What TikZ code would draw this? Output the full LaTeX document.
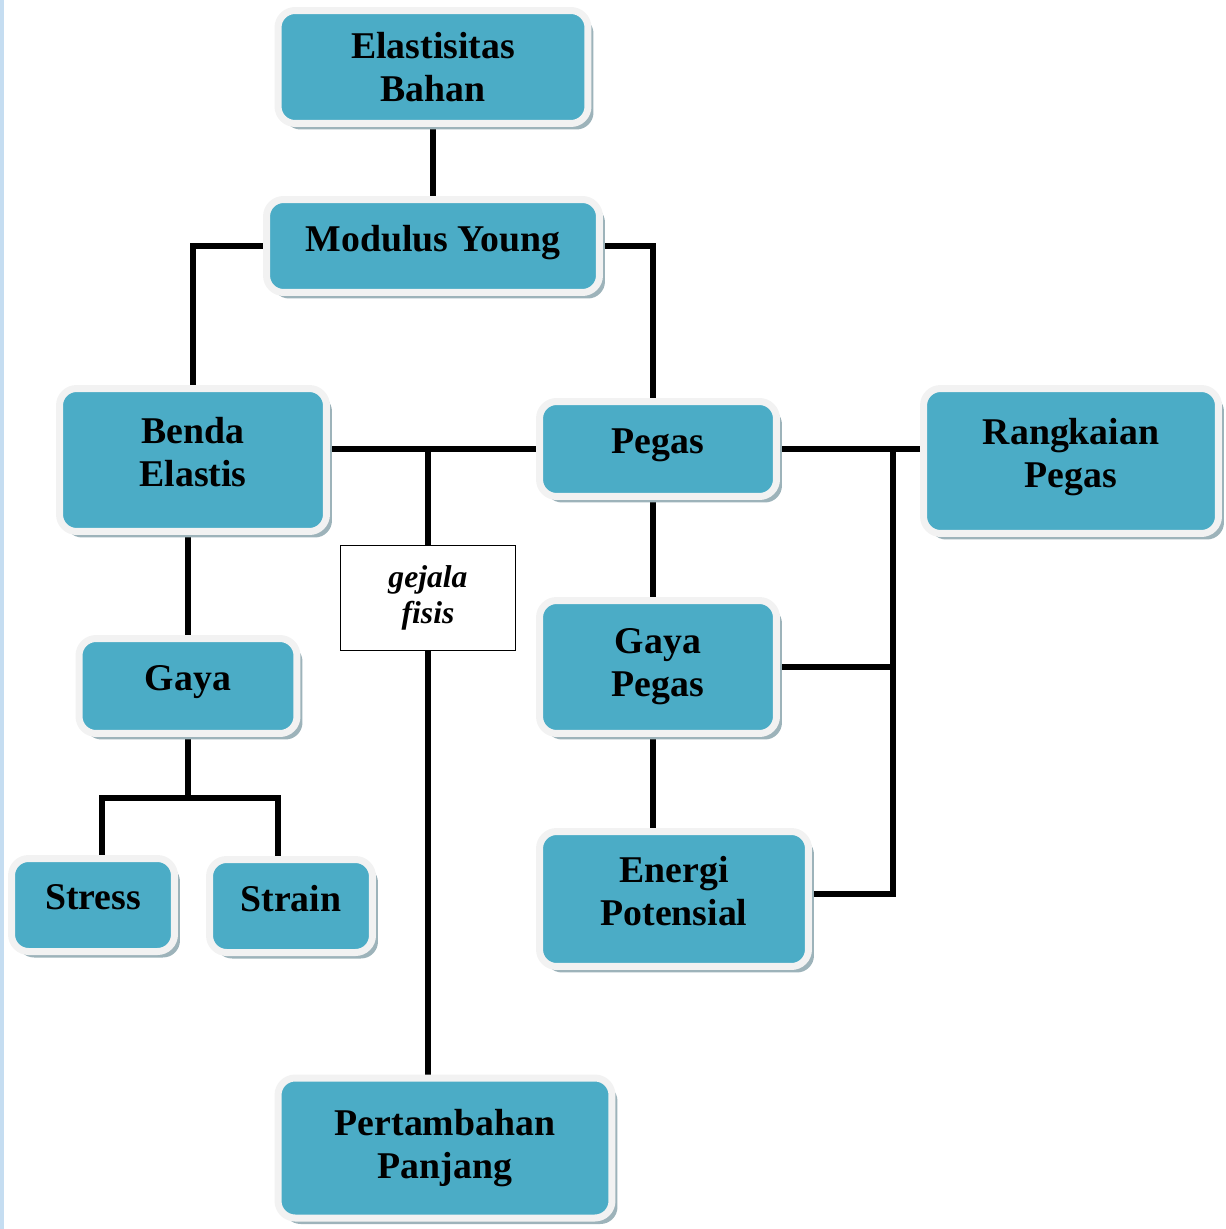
\documentclass[tikz,border=0pt]{standalone}
\usepackage{fontspec}
\setmainfont{Liberation Serif}
\usetikzlibrary{shadows,backgrounds}
\definecolor{kotak}{HTML}{4BACC6}
\definecolor{tepi}{HTML}{F2F2F2}
\definecolor{bayang}{HTML}{9DB3BA}
\definecolor{pinggir}{HTML}{C5DDF1}
\tikzset{
	konsep/.style = {align=center, inner sep=0pt, fill=kotak, draw=tepi, line width=0.14cm,
		rounded corners=0.34cm, font=\fontsize{21.5}{24.5}\selectfont\bfseries, text depth=9pt,
		drop shadow={shadow xshift=0.11cm, shadow yshift=-0.12cm, fill=bayang, opacity=1}},
	ket/.style = {align=center, inner sep=0pt, fill=white, draw=black, line width=0.8pt,
		minimum width=3.5cm, minimum height=2.1cm, font=\fontsize{18}{20.5}\selectfont\bfseries\itshape},
	garis/.style = {line width=0.12cm, black}
}
\begin{document}
\begin{tikzpicture}[x=0.02cm, y=-0.02cm]
\useasboundingbox (0,0) rectangle (1225,1229);
\fill[pinggir] (0,0) rectangle (4,1229);

\node [konsep, text depth=0pt, minimum width=6.2cm, minimum height=2.26cm] (elastisitas) at (433,67) {Elastisitas\\Bahan};
\node [konsep, minimum width=6.66cm, minimum height=1.86cm] (modulus) at (433,246) {Modulus Young};
\node [konsep, minimum width=5.34cm, minimum height=2.86cm] (benda) at (193,460) {Benda\\Elastis};
\node [konsep, minimum width=4.74cm, minimum height=1.9cm] (pegas) at (658,449) {Pegas};
\node [konsep, minimum width=5.9cm, minimum height=2.9cm] (rangkaian) at (1071,461) {Rangkaian\\Pegas};
\node [konsep, text depth=5pt, minimum width=4.74cm, minimum height=2.66cm] (gayapegas) at (658,667) {Gaya\\Pegas};
\node [konsep, minimum width=5.38cm, minimum height=2.7cm] (energi) at (674,899) {Energi\\Potensial};
\node [konsep, minimum width=4.36cm, minimum height=1.9cm] (gaya) at (188,686) {Gaya};
\node [konsep, minimum width=3.26cm, minimum height=1.86cm] (stress) at (93,905) {Stress};
\node [konsep, minimum width=3.26cm, minimum height=1.86cm] (strain) at (291,906) {Strain};
\node [konsep, text depth=5pt, minimum width=6.68cm, minimum height=2.8cm] (tambah) at (445,1148) {Pertambahan\\Panjang};
\node [ket] (gejala) at (428,598) {gejala\\fisis};

\coordinate (bus) at (893,0);
\coordinate (cabang) at (188,798);

\begin{scope}[on background layer]
\draw[garis] (elastisitas) -- (modulus);
\draw[garis] (modulus.west) -| (benda.north);
\draw[garis] (modulus.east) -| ([xshift=-0.1cm]pegas.north);
\draw[garis] (benda.east |- pegas.west) -- (pegas.west);
\draw[garis] (gejala.north) -- (gejala.north |- pegas.west);
\draw[garis] (gejala.south) -- (gejala.south |- tambah.north);
\draw[garis] ([xshift=-0.1cm]pegas.south) -- ([xshift=-0.1cm]gayapegas.north);
\draw[garis] ([xshift=-0.1cm]gayapegas.south) -- ([xshift=-0.1cm]gayapegas.south |- energi.north);
\draw[garis] (pegas.east) -- (pegas.east -| rangkaian.west);
\draw[garis] (pegas.east -| bus) |- ([yshift=0.1cm]energi.east);
\draw[garis] (gayapegas.east) -- (gayapegas.east -| bus);
\draw[garis] (gaya.north) -- (gaya.north |- benda.south);
\draw[garis] (gaya.south) -- (cabang);
\draw[garis] ([xshift=0.18cm]stress.north) |- (cabang) -| ([xshift=-0.26cm]strain.north);
\end{scope}
\end{tikzpicture}
\end{document}
